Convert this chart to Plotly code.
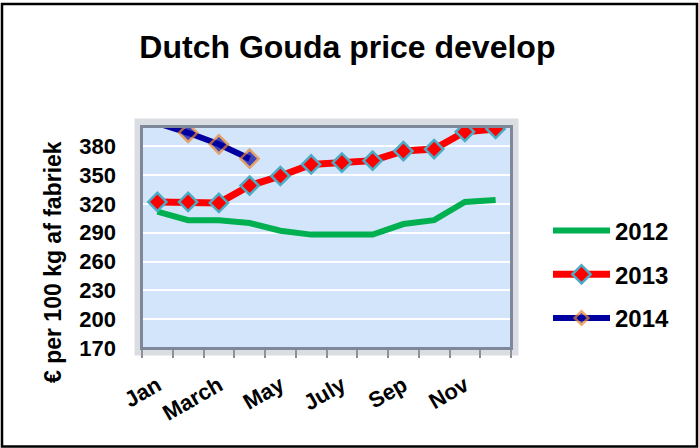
import plotly.graph_objects as go

months = ["Jan", "Feb", "Mar", "Apr", "May", "Jun", "Jul", "Aug", "Sep", "Oct", "Nov", "Dec"]
tick_text = ["Jan", "", "March", "", "May", "", "July", "", "Sep", "", "Nov", ""]
price_2012 = [312, 303, 303, 300, 292, 288, 288, 288, 299, 303, 322, 324]
price_2013 = [322, 322, 321, 339, 349, 361, 363, 365, 375, 377, 395, 398]
months_2014 = ["Jan", "Feb", "Mar", "Apr"]
price_2014 = [404, 394, 382, 367]
y_ticks = [170, 200, 230, 260, 290, 320, 350, 380]
y_title = "€ per 100 kg af fabriek"

W, H = 699, 448
L, R, T, B = 142, 188, 127, 100
pw, ph = W - L - R, H - T - B

FONT = "Liberation Sans, Arial, sans-serif"

fig = go.Figure()
fig.add_trace(go.Scatter(
    x=months, y=price_2012, name="2012", mode="lines",
    line=dict(color="#00B050", width=6), legendgroup="a"))
fig.add_trace(go.Scatter(
    x=months, y=price_2013, name="2013", mode="lines+markers",
    line=dict(color="#FF0000", width=7), legendgroup="b",
    marker=dict(symbol="diamond", size=14, color="#FF0000",
                line=dict(color="#4BACC6", width=2.5))))
fig.add_trace(go.Scatter(
    x=months_2014, y=price_2014, name="2014", mode="lines+markers",
    line=dict(color="#0000A0", width=6), legendgroup="c",
    marker=dict(symbol="diamond", size=[0, 14, 14, 14], color="#0000A0",
                line=dict(color="#E8872E", width=2.5))))

def px_x(v):
    return (v - L) / pw

def px_y(v):
    return (H - B - v) / ph

shapes = [
    # bevel frame around plot area
    dict(type="rect", xref="paper", yref="paper", x0=px_x(138), x1=px_x(515), y0=px_y(352), y1=px_y(122),
         line=dict(color="rgba(150,158,172,0.35)", width=7), layer="above"),
    dict(type="rect", xref="paper", yref="paper", x0=px_x(141.5), x1=px_x(511.5), y0=px_y(348.5), y1=px_y(126.5),
         line=dict(color="#7F8899", width=3), layer="above"),
    # outer chart border
    dict(type="rect", xref="paper", yref="paper", x0=px_x(2), x1=px_x(697), y0=px_y(446.5), y1=px_y(4),
         line=dict(color="#000000", width=2.5), layer="above"),
]

fig.update_layout(
    width=W, height=H,
    margin=dict(l=L, r=R, t=T, b=B, autoexpand=False),
    paper_bgcolor="white",
    plot_bgcolor="#D3E5FB",
    font=dict(family=FONT, color="black"),
    title=dict(text="Dutch Gouda price develop", x=0.497, xanchor="center", y=0.895, yanchor="middle",
               font=dict(family=FONT, size=32, weight="bold", color="black")),
    showlegend=True,
    legend=dict(x=px_x(548), xanchor="left", y=px_y(274.5), yanchor="middle",
                font=dict(family=FONT, size=24, weight="bold", color="black"),
                tracegroupgap=9.5, itemwidth=57, bgcolor="rgba(0,0,0,0)"),
    shapes=shapes,
    annotations=[dict(text=y_title, textangle=-90, xref="paper", yref="paper",
                      x=px_x(53), y=px_y(262), xanchor="center", yanchor="middle", showarrow=False,
                      font=dict(family=FONT, size=23, weight="bold", color="black"))],
)

fig.update_xaxes(
    type="category", categoryorder="array", categoryarray=months,
    tickmode="array", tickvals=months, ticktext=tick_text,
    tickson="boundaries", ticks="outside", ticklen=8, tickwidth=2, tickcolor="#8C8C8C",
    showline=True, linecolor="#8C8C8C", linewidth=2, showgrid=False,
    tickangle=-30, ticklabelstandoff=14, automargin=False,
    tickfont=dict(family=FONT, size=22, weight="bold", color="black"),
    range=[-0.5, 11.5],
)
fig.update_yaxes(
    range=[170, 400], tickmode="array", tickvals=y_ticks,
    showgrid=True, gridcolor="white", gridwidth=2, zeroline=False,
    showline=False, ticks="", ticklabelstandoff=25, automargin=False,
    tickfont=dict(family=FONT, size=22, weight="bold", color="black"),
)

fig.write_html("out.html", config={"displayModeBar": False},
               post_script="document.body.style.margin='0';")
